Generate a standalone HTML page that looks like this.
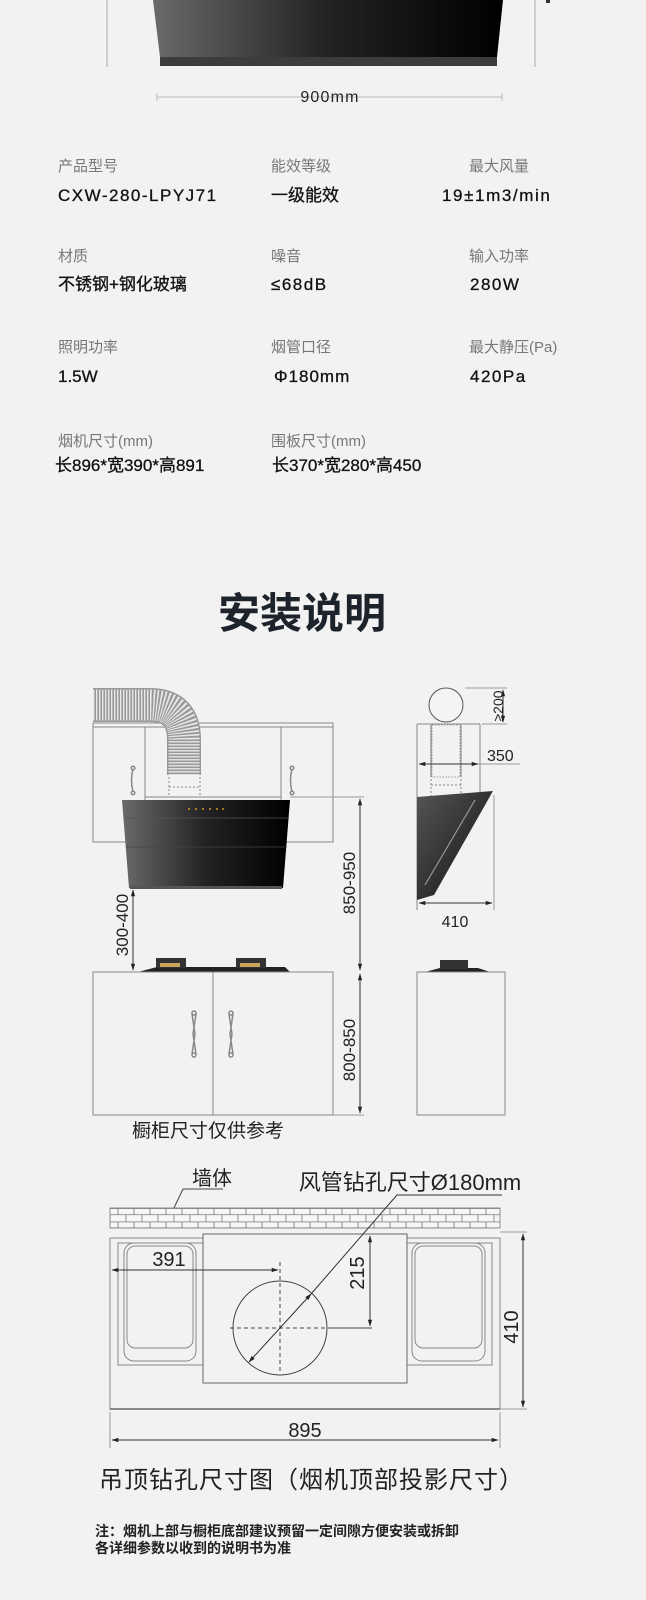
<!DOCTYPE html>
<html><head><meta charset="utf-8"><style>
html,body{margin:0;padding:0;background:#f2f2f2}
svg{display:block}
text{font-family:"Liberation Sans","Noto Sans CJK SC",sans-serif}
</style></head><body>
<svg width="646" height="1600" viewBox="0 0 646 1600" xmlns="http://www.w3.org/2000/svg">
<defs>
<linearGradient id="hg" x1="0" x2="1" y1="0" y2="0"><stop offset="0" stop-color="#6a6a6a"/><stop offset="0.5" stop-color="#222"/><stop offset="1" stop-color="#000"/></linearGradient>
<linearGradient id="sg" x1="0" x2="1" y1="0" y2="1"><stop offset="0" stop-color="#555"/><stop offset="1" stop-color="#111"/></linearGradient>
<marker id="a" viewBox="0 0 10 10" refX="9" refY="5" markerWidth="7" markerHeight="7" orient="auto-start-reverse"><path d="M0,2 L10,5 L0,8z" fill="#222"/></marker>
<pattern id="brick" width="16" height="13.4" patternUnits="userSpaceOnUse" x="110" y="1208">
<rect width="16" height="13.4" fill="#f6f6f6"/>
<path d="M0,0.5H16M0,6.7H16M8,0.5V6.7M0,6.7V13.4M16,6.7V13.4" stroke="#777" stroke-width="0.8" fill="none"/>
</pattern>
</defs>
<rect width="646" height="1600" fill="#f2f2f2"/>

<!-- top hood -->
<polygon points="153,0 503,0 497,57 160,57" fill="url(#hg)"/>
<rect x="160" y="57" width="337" height="9" fill="#3c3c3c"/>
<line x1="107" y1="0" x2="107" y2="67" stroke="#aaa"/>
<line x1="535" y1="0" x2="535" y2="67" stroke="#aaa"/>
<rect x="546" y="0" width="4" height="3" fill="#333"/>
<line x1="157" y1="97" x2="502" y2="97" stroke="#bbb"/>
<line x1="157" y1="93" x2="157" y2="101" stroke="#bbb"/>
<line x1="502" y1="93" x2="502" y2="101" stroke="#bbb"/>
<text x="330" y="102" font-size="16" fill="#222" text-anchor="middle" letter-spacing="1.2">900mm</text>

<!-- spec grid -->
<g font-size="15" fill="#777">
<text x="58" y="171">产品型号</text><text x="271" y="171">能效等级</text><text x="469" y="171">最大风量</text>
<text x="58" y="261">材质</text><text x="271" y="261">噪音</text><text x="469" y="261">输入功率</text>
<text x="58" y="352">照明功率</text><text x="271" y="352">烟管口径</text><text x="469" y="352">最大静压(Pa)</text>
<text x="58" y="446">烟机尺寸(mm)</text><text x="271" y="446">围板尺寸(mm)</text>
</g>
<g font-size="17" fill="#111" stroke="#111" stroke-width="0.3">
<text x="58" y="201" letter-spacing="1.5">CXW-280-LPYJ71</text><text x="271" y="201">一级能效</text><text x="442" y="201" letter-spacing="1.6">19±1m3/min</text>
<text x="58" y="290">不锈钢+钢化玻璃</text><text x="271" y="290" letter-spacing="1.5">≤68dB</text><text x="470" y="290" letter-spacing="1.5">280W</text>
<text x="58" y="382">1.5W</text><text x="274" y="382" letter-spacing="1">Φ180mm</text><text x="470" y="382" letter-spacing="1.5">420Pa</text>
<text x="55" y="471">长896*宽390*高891</text><text x="272" y="471">长370*宽280*高450</text>
</g>

<text x="302" y="628" font-size="42" font-weight="bold" fill="#1c232b" text-anchor="middle">安装说明</text>

<!-- front view -->
<g stroke="#888" fill="none" stroke-width="1">
<rect x="93" y="723" width="240" height="119"/>
<line x1="93" y1="727" x2="333" y2="727"/>
<line x1="145" y1="727" x2="145" y2="842"/>
<line x1="281" y1="727" x2="281" y2="842"/>
<line x1="145" y1="797" x2="281" y2="797"/>
</g>
<!-- duct -->
<path d="M93,705 H150 Q184,705 184,740 V775" stroke="#999" stroke-width="34" fill="none"/>
<path d="M93,705 H150 Q184,705 184,740 V775" stroke="#e8e8e8" stroke-width="31" fill="none" stroke-dasharray="1.4 1.6"/>
<path d="M169,777 V797 M200,777 V797 M169,787 H200" stroke="#888" stroke-dasharray="2 2" fill="none"/>
<g stroke="#888" fill="none" stroke-width="1.5">
<path d="M133,769 Q130,780 133,792 M292,769 Q289,780 292,792"/>
<circle cx="133" cy="768" r="1.8"/><circle cx="133" cy="793" r="1.8"/><circle cx="292" cy="768" r="1.8"/><circle cx="292" cy="793" r="1.8"/>
</g>
<!-- hood -->
<polygon points="122,800 290,800 283,888 129,888" fill="url(#hg)"/>
<line x1="124" y1="818" x2="289" y2="818" stroke="#555" stroke-width="0.8"/>
<line x1="126" y1="847" x2="287" y2="847" stroke="#444" stroke-width="0.8"/>
<rect x="130" y="886" width="152" height="3" fill="#555"/>
<g fill="#d49a2a"><circle cx="189" cy="809" r="1"/><circle cx="196" cy="809" r="1"/><circle cx="203" cy="809" r="1"/><circle cx="210" cy="809" r="1"/><circle cx="217" cy="809" r="1"/><circle cx="223" cy="809" r="1"/></g>
<!-- dims front -->
<g stroke="#333" stroke-width="1" fill="none">
<line x1="290" y1="797" x2="364" y2="797" stroke="#999"/>
<line x1="360" y1="799" x2="360" y2="970" marker-start="url(#a)" marker-end="url(#a)"/>
<line x1="360" y1="974" x2="360" y2="1113" marker-start="url(#a)" marker-end="url(#a)"/>
<line x1="333" y1="1115" x2="364" y2="1115" stroke="#999"/>
<line x1="133" y1="890" x2="133" y2="970" marker-start="url(#a)" marker-end="url(#a)"/>
</g>
<g font-size="17" fill="#222">
<text transform="translate(355,883) rotate(-90)" text-anchor="middle">850-950</text>
<text transform="translate(128,925) rotate(-90)" text-anchor="middle">300-400</text>
<text transform="translate(355,1050) rotate(-90)" text-anchor="middle">800-850</text>
</g>
<!-- stove -->
<path d="M138,972 L157,967 H285 L290,972Z" fill="#222"/>
<rect x="156" y="958" width="30" height="10" fill="#333"/>
<rect x="236" y="958" width="30" height="10" fill="#333"/>
<rect x="160" y="963" width="20" height="4" fill="#c9a55a"/>
<rect x="240" y="963" width="20" height="4" fill="#c9a55a"/>
<!-- lower cabinet -->
<g stroke="#888" fill="none" stroke-width="1">
<rect x="93" y="972" width="240" height="143"/>
<line x1="213" y1="972" x2="213" y2="1115"/>
</g>
<g stroke="#888" fill="none" stroke-width="1.5">
<path d="M192,1014 L195,1034 L192,1054 M196,1014 L193,1034 L196,1054 M229,1014 L232,1034 L229,1054 M233,1014 L230,1034 L233,1054"/>
<circle cx="194" cy="1013" r="2"/><circle cx="194" cy="1055" r="2"/><circle cx="231" cy="1013" r="2"/><circle cx="231" cy="1055" r="2"/>
</g>
<text x="208" y="1137" font-size="19" fill="#222" text-anchor="middle">橱柜尺寸仅供参考</text>

<!-- side view -->
<circle cx="446" cy="705" r="17" fill="#f4f4f4" stroke="#555"/>
<g stroke="#888" fill="none">
<line x1="417" y1="724" x2="480" y2="724"/>
<line x1="417" y1="724" x2="417" y2="910"/>
<line x1="480" y1="724" x2="480" y2="797"/>
<path d="M431,725 V777 M461,725 V777" stroke="#777"/>
<path d="M431,779 V797 M461,779 V797 M431,785 H461" stroke-dasharray="2 2"/>
</g>
<rect x="432" y="725" width="28" height="52" fill="none" stroke="#999" stroke-dasharray="1.5 1.5"/>
<polygon points="417,797 493,791 434,895 417,900" fill="url(#sg)"/>
<line x1="475" y1="800" x2="425" y2="885" stroke="#999" stroke-width="1.2"/>
<g stroke="#333" fill="none">
<line x1="465" y1="688" x2="507" y2="688" stroke="#999"/>
<line x1="482" y1="724" x2="507" y2="724" stroke="#999"/>
<line x1="503" y1="690" x2="503" y2="722" marker-start="url(#a)" marker-end="url(#a)"/>
<line x1="419" y1="764" x2="478" y2="764" marker-start="url(#a)" marker-end="url(#a)"/>
<line x1="478" y1="764" x2="520" y2="764" stroke="#999"/>
<line x1="494" y1="795" x2="494" y2="910" stroke="#999"/>
<line x1="419" y1="903" x2="492" y2="903" marker-start="url(#a)" marker-end="url(#a)"/>
</g>
<text transform="translate(498,706) rotate(-90)" font-size="14" fill="#222" text-anchor="middle" dy="5">≥200</text>
<text x="487" y="761" font-size="16" fill="#222">350</text>
<text x="455" y="927" font-size="16" fill="#222" text-anchor="middle">410</text>
<path d="M425,972 L440,968 H478 L490,972Z" fill="#222"/>
<rect x="440" y="960" width="28" height="9" fill="#333"/>
<rect x="417" y="972" width="88" height="143" fill="none" stroke="#888"/>

<!-- plan view -->
<text x="212" y="1185" font-size="20" fill="#222" text-anchor="middle">墙体</text>
<path d="M223,1189 H183 L172,1212" stroke="#444" fill="none"/>
<text x="410" y="1190" font-size="22" fill="#222" text-anchor="middle">风管钻孔尺寸Ø180mm</text>
<rect x="110" y="1208" width="390" height="20" fill="url(#brick)" stroke="#777" stroke-width="0.8"/>
<g stroke="#888" fill="none">
<rect x="110" y="1238" width="390" height="171"/>
<rect x="118" y="1243" width="374" height="122"/>
<rect x="127" y="1246" width="66" height="102" rx="8"/>
<rect x="124" y="1243" width="72" height="118" rx="10"/>
<rect x="415" y="1246" width="67" height="102" rx="8"/>
<rect x="412" y="1243" width="73" height="118" rx="10"/>
</g>
<line x1="110" y1="1409" x2="500" y2="1409" stroke="#666" stroke-width="1.5"/>
<rect x="203" y="1234" width="204" height="149" fill="#f2f2f2" stroke="#666"/>
<circle cx="280" cy="1328" r="47" fill="none" stroke="#444"/>
<g stroke="#444" stroke-dasharray="4 3" fill="none">
<line x1="280" y1="1262" x2="280" y2="1373"/><line x1="230" y1="1328" x2="330" y2="1328"/>
</g>
<line x1="330" y1="1328" x2="372" y2="1328" stroke="#444"/>
<g stroke="#333" fill="none">
<line x1="112" y1="1270" x2="278" y2="1270" marker-start="url(#a)" marker-end="url(#a)"/>
<line x1="370" y1="1236" x2="370" y2="1326" marker-start="url(#a)" marker-end="url(#a)"/>
<line x1="523" y1="1234" x2="523" y2="1407" marker-start="url(#a)" marker-end="url(#a)"/>
<line x1="500" y1="1232" x2="527" y2="1232" stroke="#999"/>
<line x1="500" y1="1409" x2="527" y2="1409" stroke="#999"/>
<line x1="110" y1="1412" x2="110" y2="1448" stroke="#999"/>
<line x1="500" y1="1412" x2="500" y2="1448" stroke="#999"/>
<line x1="112" y1="1440" x2="498" y2="1440" marker-start="url(#a)" marker-end="url(#a)"/>
<line x1="249" y1="1362" x2="311" y2="1294" marker-start="url(#a)" marker-end="url(#a)"/>
<path d="M311,1294 L397,1195 H502"/>
</g>
<g font-size="20" fill="#222">
<text x="169" y="1266" text-anchor="middle">391</text>
<text transform="translate(364,1273) rotate(-90)" text-anchor="middle">215</text>
<text transform="translate(518,1327) rotate(-90)" text-anchor="middle">410</text>
<text x="305" y="1437" text-anchor="middle">895</text>
</g>
<text x="99" y="1488" font-size="24" fill="#222" letter-spacing="1">吊顶钻孔尺寸图（烟机顶部投影尺寸）</text>
<g font-size="14" fill="#222" font-weight="bold">
<text x="95" y="1536">注：烟机上部与橱柜底部建议预留一定间隙方便安装或拆卸</text>
<text x="95" y="1553">各详细参数以收到的说明书为准</text>
</g>
</svg>
</body></html>
